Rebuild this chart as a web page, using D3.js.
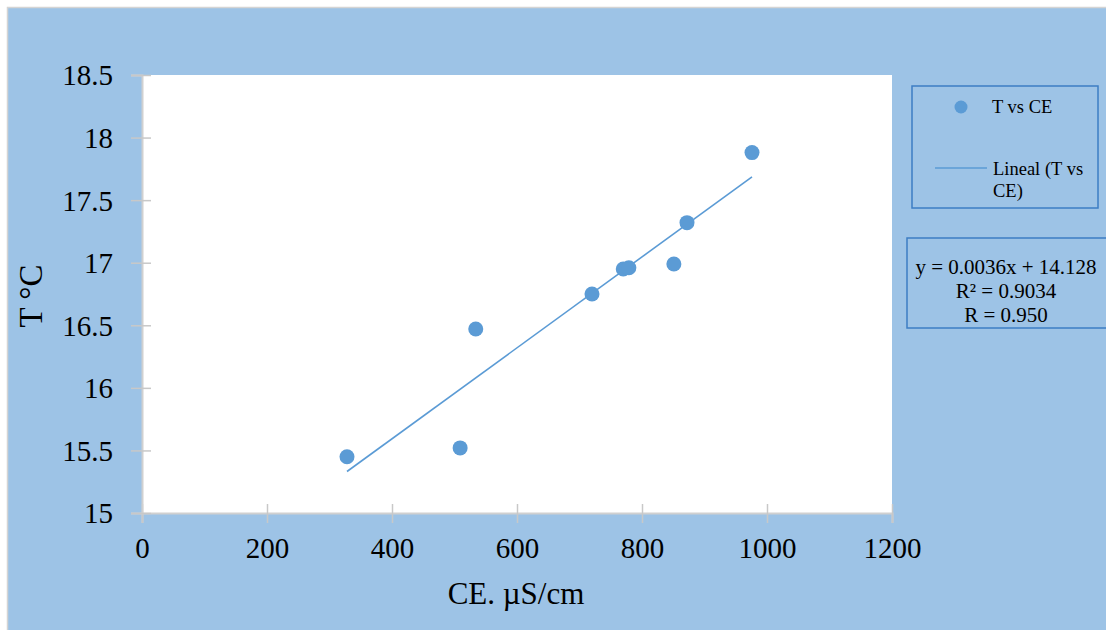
<!DOCTYPE html>
<html>
<head>
<meta charset="utf-8">
<script src="https://cdn.jsdelivr.net/npm/d3@7"></script>
<style>
  body { margin: 0; background: #fff; }
</style>
</head>
<body>
<svg id="chart" width="1106" height="630" font-family="Liberation Serif, serif"></svg>
<script>
// CE (uS/cm) vs temperature readings
const ceValues = [328, 509, 534, 720, 770, 779, 851, 872, 976];
const tempValues = [15.45, 15.52, 16.47, 16.75, 16.95, 16.96, 16.99, 17.32, 17.88];
const xTicks = [0, 200, 400, 600, 800, 1000, 1200];
const yTicks = [15, 15.5, 16, 16.5, 17, 17.5, 18, 18.5];
const legendLabels = ['T vs CE', 'Lineal (T vs', 'CE)'];
const equationLines = ['y = 0.0036x + 14.128', 'R\u00b2 = 0.9034', 'R = 0.950'];

const data = ceValues.map((d, i) => ({ ce: d, t: tempValues[i] }));

let svg = d3.select('#chart');
let blue = '#5b9bd5';
let serif = 'Liberation Serif, serif';

// chart area background
svg
  .append('rect')
  .attr('x', 7.5)
  .attr('y', 7.5)
  .attr('width', 1110)
  .attr('height', 640)
  .attr('fill', '#9dc3e6')
  .attr('stroke', '#d4d4d4')
  .attr('stroke-width', 1.5);

let margin = { left: 142, top: 75, right: 892, bottom: 513 };

let xPos = d3.scaleLinear().domain([0, 1200]).range([margin.left, margin.right]);
let yPos = d3.scaleLinear().domain([15, 18.5]).range([margin.bottom, margin.top]);

svg
  .append('rect')
  .attr('x', margin.left)
  .attr('y', margin.top)
  .attr('width', margin.right - margin.left)
  .attr('height', margin.bottom - margin.top)
  .attr('fill', '#fff');

// axes
let xAxis = svg
  .append('g')
  .attr('transform', `translate(0,${margin.bottom})`)
  .call(d3.axisBottom(xPos).tickValues(xTicks).tickSize(10).tickPadding(14).tickFormat(d3.format('d')));
let yAxis = svg
  .append('g')
  .attr('transform', `translate(${margin.left},0)`)
  .call(d3.axisLeft(yPos).tickValues(yTicks).tickSize(11).tickPadding(18).tickFormat((d) => String(d)));

[xAxis, yAxis].forEach((ax) => {
  ax.attr('font-family', serif).attr('font-size', 29);
  ax.select('.domain').attr('stroke', '#d0d0d0').attr('stroke-width', 2);
  ax.selectAll('.tick line').attr('stroke', '#c8c8c8').attr('stroke-width', 1.5);
  ax.selectAll('.tick text').attr('font-family', serif).attr('fill', '#000');
});
// ticks cross the axis
xAxis.selectAll('.tick line').attr('y1', -9).attr('y2', 10);
yAxis.selectAll('.tick line').attr('x1', 9).attr('x2', -11);
yAxis.selectAll('.tick text').attr('dy', '0.34em');

// axis titles
svg
  .append('text')
  .attr('x', 516)
  .attr('y', 604)
  .attr('text-anchor', 'middle')
  .attr('font-size', 31)
  .text('CE. \u00b5S/cm');

svg
  .append('text')
  .attr('transform', 'translate(42,296) rotate(-90)')
  .attr('text-anchor', 'middle')
  .attr('font-size', 33)
  .text('T \u00b0C');

// linear trend (least squares)
let mx = d3.mean(data, (d) => d.ce);
let my = d3.mean(data, (d) => d.t);
let slope = d3.sum(data, (d) => (d.ce - mx) * (d.t - my)) / d3.sum(data, (d) => (d.ce - mx) ** 2);
let intercept = my - slope * mx;
let xExtent = d3.extent(data, (d) => d.ce);

svg
  .append('line')
  .attr('x1', xPos(xExtent[0]))
  .attr('y1', yPos(slope * xExtent[0] + intercept))
  .attr('x2', xPos(xExtent[1]))
  .attr('y2', yPos(slope * xExtent[1] + intercept))
  .attr('stroke', blue)
  .attr('stroke-width', 1.6);

svg
  .append('g')
  .selectAll('circle')
  .data(data)
  .join('circle')
  .attr('cx', (d) => xPos(d.ce))
  .attr('cy', (d) => yPos(d.t))
  .attr('r', 7.5)
  .attr('fill', blue);

// legend
let legend = svg.append('g');
legend
  .append('rect')
  .attr('x', 912)
  .attr('y', 86)
  .attr('width', 186)
  .attr('height', 122)
  .attr('fill', 'none')
  .attr('stroke', '#3d7ec4')
  .attr('stroke-width', 1.5);
legend.append('circle').attr('cx', 961).attr('cy', 107).attr('r', 6.5).attr('fill', blue);
legend
  .append('line')
  .attr('x1', 935)
  .attr('x2', 987)
  .attr('y1', 168)
  .attr('y2', 168)
  .attr('stroke', blue)
  .attr('stroke-width', 1.5);
legend
  .selectAll('text')
  .data(legendLabels)
  .join('text')
  .attr('x', (d, i) => (i == 0 ? 992 : 993))
  .attr('y', (d, i) => [113, 175, 197][i])
  .attr('font-size', 18.5)
  .text((d) => d);

// equation box
let eq = svg.append('g');
eq.append('rect')
  .attr('x', 907)
  .attr('y', 238)
  .attr('width', 210)
  .attr('height', 90)
  .attr('fill', 'none')
  .attr('stroke', '#3d7ec4')
  .attr('stroke-width', 1.5);
eq.selectAll('text')
  .data(equationLines)
  .join('text')
  .attr('x', 1006)
  .attr('y', (d, i) => 274 + i * 24)
  .attr('text-anchor', 'middle')
  .attr('font-size', 21)
  .text((d) => d);
</script>
</body>
</html>
